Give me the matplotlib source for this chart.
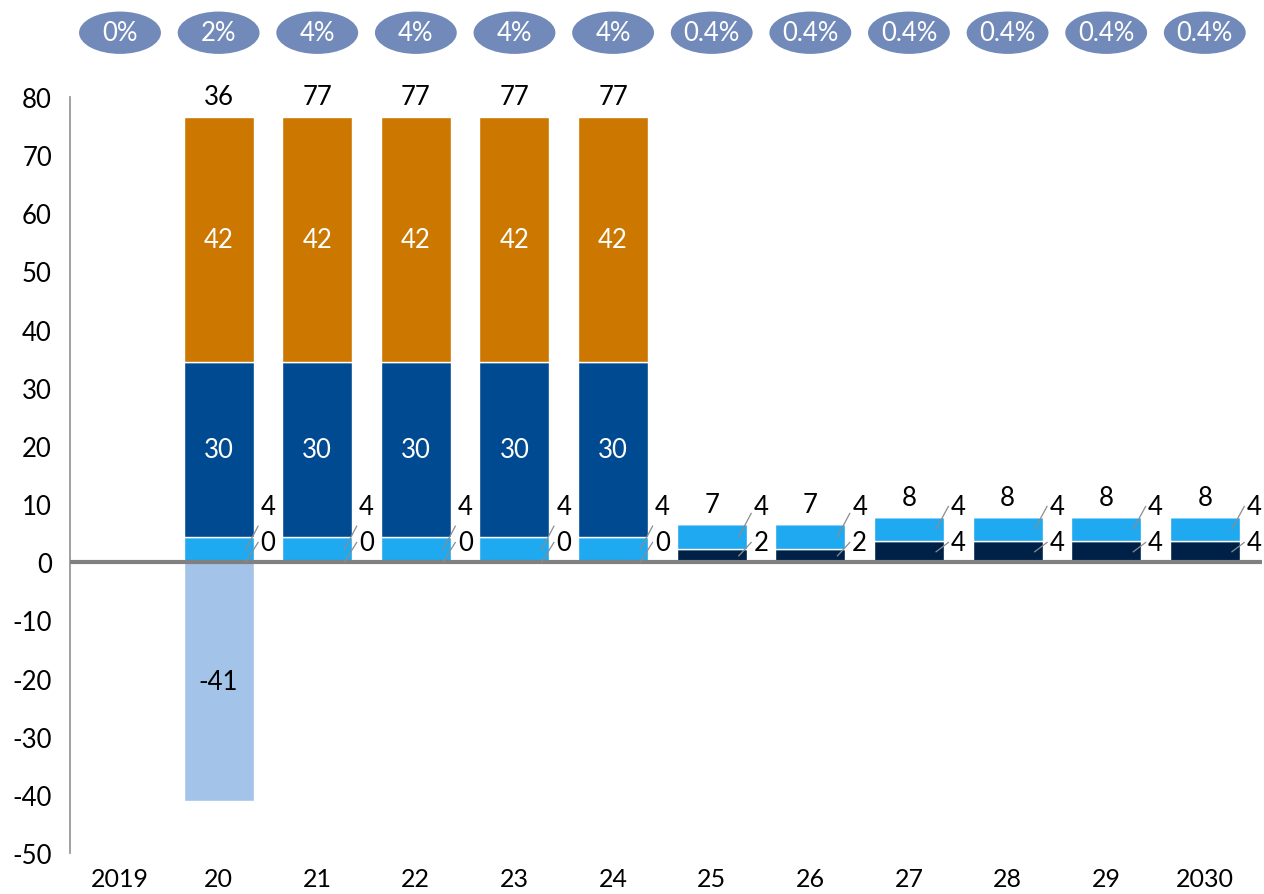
import matplotlib
matplotlib.use("Agg")
import matplotlib.pyplot as plt
from matplotlib.patches import Ellipse
from matplotlib.transforms import blended_transform_factory
import numpy as np

plt.rcParams['font.family'] = ['Lato', 'DejaVu Sans']
plt.rcParams['axes.unicode_minus'] = False

categories = ["2019", "20", "21", "22", "23", "24", "25", "26", "27", "28", "29", "2030"]
rate_labels = ["0%", "2%", "4%", "4%", "4%", "4%", "0.4%", "0.4%", "0.4%", "0.4%", "0.4%", "0.4%"]

navy_vals = [0, 0, 0, 0, 0, 0, 2.2, 2.2, 3.6, 3.6, 3.6, 3.6]
light_vals = [0, 4.4, 4.4, 4.4, 4.4, 4.4, 4.4, 4.4, 4.2, 4.2, 4.2, 4.2]
dark_vals = [0, 30, 30, 30, 30, 30, 0, 0, 0, 0, 0, 0]
orange_vals = [0, 42.2, 42.2, 42.2, 42.2, 42.2, 0, 0, 0, 0, 0, 0]
negative_vals = [0, -41, 0, 0, 0, 0, 0, 0, 0, 0, 0, 0]

C_NAVY = "#002147"
C_LIGHT = "#1FA9F0"
C_DARK = "#004A91"
C_ORANGE = "#CC7700"
C_PALE = "#A3C3E8"
C_PILL = "#718AB9"
FS = 18.5

fig = plt.figure(figsize=(12.64, 8.95), dpi=100)
ax = fig.add_axes([70 / 1264, 41 / 895, 1192 / 1264, 756 / 895])

x = np.arange(len(categories))
w = 0.71
navy = np.array(navy_vals)
light = np.array(light_vals)
dark = np.array(dark_vals)
orange = np.array(orange_vals)
neg = np.array(negative_vals)

kw = dict(width=w, edgecolor="white", linewidth=1, zorder=2)
ax.bar(x, navy, color=C_NAVY, **kw)
ax.bar(x, light, bottom=navy, color=C_LIGHT, **kw)
ax.bar(x, dark, bottom=navy + light, color=C_DARK, **kw)
ax.bar(x, orange, bottom=navy + light + dark, color=C_ORANGE, **kw)
ax.bar(x, neg, color=C_PALE, **kw)

pos_top = navy + light + dark + orange
net = pos_top + neg

# zero baseline
ax.axhline(0, color="#808080", linewidth=3, zorder=4)

upper_y, lower_y = 9.6, 3.4
for i in range(len(x)):
    if pos_top[i] <= 0:
        continue
    # totals above each stack
    ax.text(x[i], pos_top[i] + 3.4, f"{net[i]:.0f}", ha="center", va="center",
            fontsize=FS, color="black", zorder=5)
    # inside labels for the large segments
    if orange[i] > 0:
        ax.text(x[i], navy[i] + light[i] + dark[i] + orange[i] / 2, f"{orange[i]:.0f}",
                ha="center", va="center", fontsize=FS, color="white", zorder=5)
    if dark[i] > 0:
        ax.text(x[i], navy[i] + light[i] + dark[i] / 2, f"{dark[i]:.0f}",
                ha="center", va="center", fontsize=FS, color="white", zorder=5)
    if neg[i] < 0:
        ax.text(x[i], neg[i] / 2, f"{neg[i]:.0f}", ha="center", va="center",
                fontsize=FS, color="black", zorder=5)
    # side labels with leader lines for the thin segments
    right = x[i] + w / 2
    for mid, val, ly in ((navy[i] + light[i] / 2, light[i], upper_y),
                         (navy[i] / 2, navy[i], lower_y)):
        sx, sy = right - 0.08, mid
        ex, ey = right + 0.045, min(ly, mid + 4.0)
        ax.plot([sx, ex], [sy, ey], color="#8C8C8C", linewidth=0.9, zorder=5)
        ax.text(right + 0.07, ly, f"{val:.0f}", ha="left", va="center",
                fontsize=FS, color="black", zorder=5)

# rate pills above the plot
trans = blended_transform_factory(ax.transData, ax.transAxes)
for i, lab in enumerate(rate_labels):
    ax.add_patch(Ellipse((x[i], 1.085), 0.83, 0.056, transform=trans,
                         facecolor=C_PILL, edgecolor="none", clip_on=False))
    ax.text(x[i], 1.085, lab, transform=trans, ha="center", va="center",
            fontsize=FS, color="white", clip_on=False)

ax.set_xlim(-0.507, 11.58)
ax.set_ylim(-50, 80)
ax.set_yticks(np.arange(-50, 81, 10))
ax.set_xticks(x)
ax.set_xticklabels(categories)
ax.tick_params(axis="y", length=0, pad=13, labelsize=FS)
ax.tick_params(axis="x", length=0, pad=10, labelsize=18)
for s in ("top", "right", "bottom"):
    ax.spines[s].set_visible(False)
ax.spines["left"].set_color("#999999")
ax.spines["left"].set_linewidth(1.3)

fig.savefig("out.png", dpi=100)
